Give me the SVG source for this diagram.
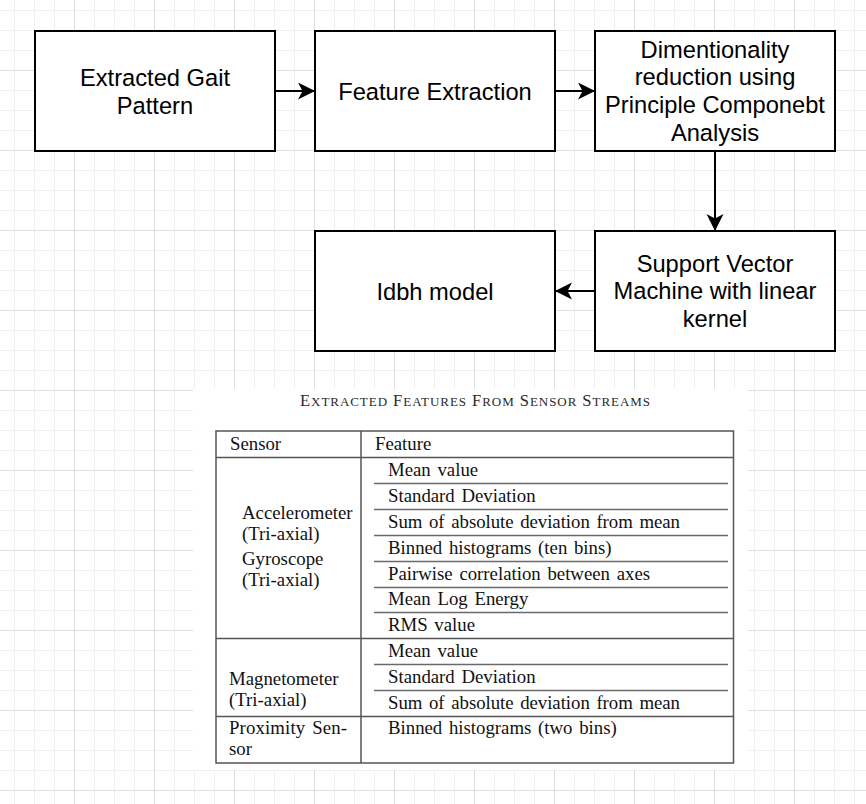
<svg xmlns="http://www.w3.org/2000/svg" width="866" height="804" viewBox="0 0 866 804">
<defs>
<pattern id="grid" patternUnits="userSpaceOnUse" x="74" y="70" width="80" height="80">
<path d="M20.5 0V80M40.5 0V80M60.5 0V80M0 20.5H80M0 40.5H80M0 60.5H80" stroke="#f0f0f0" stroke-width="1" fill="none"/>
<path d="M0.5 0V80M0 0.5H80" stroke="#dedede" stroke-width="1" fill="none"/>
</pattern>
<marker id="arr" markerUnits="userSpaceOnUse" markerWidth="18" markerHeight="18" refX="17" refY="8.5" orient="auto">
<path d="M0,0 L17,8.5 L0,17 L4.5,8.5 Z" fill="#000"/>
</marker>
<style>
.box{fill:#fff;stroke:#000;stroke-width:2}
.lbl{font-family:"Liberation Sans",Arial,Helvetica,sans-serif;font-size:23.7px;fill:#000;text-anchor:middle}
.edge{stroke:#000;stroke-width:2;fill:none;marker-end:url(#arr)}
.tt{font-family:"Liberation Serif","Times New Roman",serif;font-size:18.8px;fill:#111;word-spacing:2px}
.cap{font-family:"Liberation Serif","Times New Roman",serif;fill:#2a2a2a}
.tb{stroke:#555;stroke-width:1.5;fill:none}
.tl{stroke:#6a6a6a;stroke-width:1.3;fill:none}
</style>
</defs>
<rect x="0" y="0" width="866" height="804" fill="#fff"/>
<rect x="0" y="0" width="866" height="804" fill="url(#grid)"/>

<g id="node-gait">
<rect class="box" x="35" y="31" width="240" height="120"/>
<text class="lbl" x="155" y="86">Extracted Gait</text>
<text class="lbl" x="155" y="113.5">Pattern</text>
</g>
<g id="node-feature">
<rect class="box" x="315" y="31" width="240" height="120"/>
<text class="lbl" x="435" y="99.5">Feature Extraction</text>
</g>
<g id="node-pca">
<rect class="box" x="595" y="31" width="240" height="120"/>
<text class="lbl" x="715" y="57.5">Dimentionality</text>
<text class="lbl" x="715" y="85.2">reduction using</text>
<text class="lbl" x="715" y="112.9">Principle Componebt</text>
<text class="lbl" x="715" y="140.6">Analysis</text>
</g>
<g id="node-svm">
<rect class="box" x="595" y="231" width="240" height="120"/>
<text class="lbl" x="715" y="271.5">Support Vector</text>
<text class="lbl" x="715" y="299.2">Machine with linear</text>
<text class="lbl" x="715" y="326.9">kernel</text>
</g>
<g id="node-idbh">
<rect class="box" x="315" y="231" width="240" height="120"/>
<text class="lbl" x="435" y="299.5">Idbh model</text>
</g>

<g id="connectors">
<path class="edge" d="M275 91H315"/>
<path class="edge" d="M555 91H595"/>
<path class="edge" d="M715 151V231"/>
<path class="edge" d="M595 291H555"/>
</g>

<g id="table">
<rect x="193" y="389" width="555" height="381" fill="#fff"/>
<text class="cap" x="300" y="405.5" textLength="350" lengthAdjust="spacing"><tspan font-size="16.5">E</tspan><tspan font-size="13">XTRACTED</tspan><tspan font-size="16.5"> F</tspan><tspan font-size="13">EATURES</tspan><tspan font-size="16.5"> F</tspan><tspan font-size="13">ROM</tspan><tspan font-size="16.5"> S</tspan><tspan font-size="13">ENSOR</tspan><tspan font-size="16.5"> S</tspan><tspan font-size="13">TREAMS</tspan></text>
<rect class="tb" x="216" y="431" width="517.5" height="332"/>
<path class="tb" d="M361 431V763M216 457.5H733.5M216 638.5H733.5M216 716.5H733.5"/>
<path class="tl" d="M374 483.5H728M374 509.5H728M374 535.5H728M374 561.5H728M374 587.5H728M374 612.5H728M374 664.5H728M374 690.5H728"/>
<text class="tt" x="230" y="450">Sensor</text>
<text class="tt" x="375" y="450">Feature</text>
<text class="tt" x="242" y="519">Accelerometer</text>
<text class="tt" x="242" y="540">(Tri-axial)</text>
<text class="tt" x="242" y="565">Gyroscope</text>
<text class="tt" x="242" y="586">(Tri-axial)</text>
<text class="tt" x="229" y="685">Magnetometer</text>
<text class="tt" x="229" y="706">(Tri-axial)</text>
<text class="tt" x="229" y="734" textLength="118" lengthAdjust="spacing">Proximity Sen-</text>
<text class="tt" x="229" y="755">sor</text>
<text class="tt" x="388" y="476">Mean value</text>
<text class="tt" x="388" y="502">Standard Deviation</text>
<text class="tt" x="388" y="528" textLength="292" lengthAdjust="spacing">Sum of absolute deviation from mean</text>
<text class="tt" x="388" y="554">Binned histograms (ten bins)</text>
<text class="tt" x="388" y="580">Pairwise correlation between axes</text>
<text class="tt" x="388" y="605">Mean Log Energy</text>
<text class="tt" x="388" y="631">RMS value</text>
<text class="tt" x="388" y="657">Mean value</text>
<text class="tt" x="388" y="683">Standard Deviation</text>
<text class="tt" x="388" y="709" textLength="292" lengthAdjust="spacing">Sum of absolute deviation from mean</text>
<text class="tt" x="388" y="734">Binned histograms (two bins)</text>
</g>
</svg>
